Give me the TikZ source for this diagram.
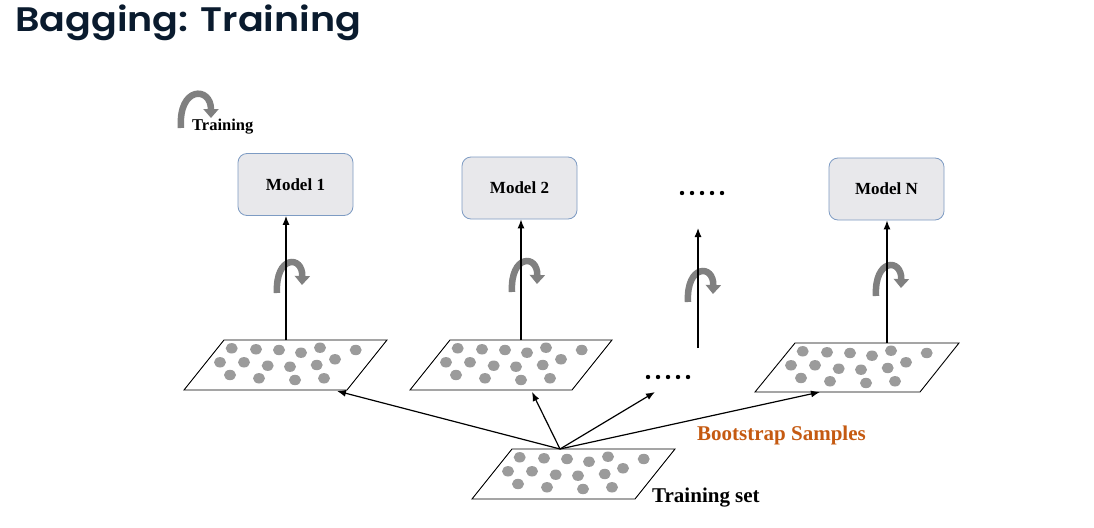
\documentclass[tikz,border=0pt]{standalone}
\usepackage{fontspec}
\setmainfont{Liberation Serif}
\newfontfamily\titlefont[FakeStretch=1.12]{Poppins SemiBold}
\usetikzlibrary{arrows.meta}
\definecolor{titlecol}{RGB}{10,27,46}
\definecolor{boxfill}{RGB}{232,232,235}
\definecolor{boxline}{RGB}{125,155,195}
\definecolor{dotcol}{RGB}{155,155,155}
\definecolor{curvcol}{RGB}{128,128,128}
\definecolor{orangecol}{RGB}{197,90,17}
\tikzset{
  modelbox/.style={draw=boxline, line width=0.8pt, fill=boxfill, rounded corners=9pt, minimum width=115pt, minimum height=62pt, font=\bfseries\fontsize{17}{19}\selectfont, inner sep=0pt},
  arr/.style={draw=black, line width=1.2pt, -{Latex[length=9pt,width=7pt]}},
  plane/.style={draw=black, line width=0.9pt, fill=white},
  sdot/.style={fill=dotcol, draw=none},
  carrow/.style={draw=curvcol, line width=6.5pt, -{Triangle[length=9pt,width=15pt]}},
  pics/curv/.style={code={\draw[carrow] (0,0) .. controls (-2,-38) and (26,-38) .. (25,-8);}},
  pics/curvwide/.style={code={\draw[carrow] (0,0) .. controls (-3,-42) and (30,-42) .. (30,-10);}},
  lbl/.style={font=\bfseries\fontsize{21}{24}\selectfont, anchor=base west, inner sep=0pt}
}
\newcommand{\dotgrid}[2]{%
  \begin{scope}[shift={(#1,#2)}]
    \foreach \dx/\dy in {7.7/8.3,32/9.3,55/10,77/12.7,96/7.7,131.7/10,
                         -4/22.3,20/22.3,43.7/25.7,66/26.7,92.7/25,111/19.3,
                         6/35,35/38.3,71/40,100/38.3}
      {\fill[sdot] (\dx,\dy) ellipse [x radius=6pt, y radius=5.2pt];}
  \end{scope}}
\begin{document}
\begin{tikzpicture}[x=1pt,y=-1pt]
\useasboundingbox[fill=white] (0,0) rectangle (1094,527);
% title
\node[anchor=base west, inner sep=0pt, text=titlecol, font=\titlefont\fontsize{34}{38}\selectfont] (title) at (15,32) {Bagging: Training};
% legend
\pic at (181,128) {curvwide};
\node[anchor=base west, inner sep=0pt, font=\bfseries\fontsize{16.5}{18}\selectfont] (leg) at (192,130) {Training};
% model boxes
\node[modelbox] (m1) at (295.5,184.5) {Model 1};
\node[modelbox] (m2) at (519.5,188) {Model 2};
\node[modelbox] (mn) at (886.5,189) {Model N};
\node[inner sep=0pt] (topdots) at (702,193) {};
\foreach \i in {0,...,4} \fill (682+\i*10,193) circle (2.2pt);
% parallelograms
\draw[plane] (224,340) coordinate (p1tl) -- (387,340) -- (347,390) -- (184,390) -- cycle;
\dotgrid{224}{340}
\draw[plane] (450,340) coordinate (p2tl) -- (612,340) -- (572,390) -- (410,390) -- cycle;
\dotgrid{450}{340}
\draw[plane] (795,343) coordinate (pntl) -- (959,343) -- (920,392) -- (755,392) -- cycle;
\dotgrid{795}{343}
\draw[plane] (512,449) coordinate (tstl) -- (675,449) -- (635,499) -- (472,499) -- cycle;
\dotgrid{512}{449}
\foreach \i in {0,...,4} \fill (648+\i*10,377) circle (2.2pt);
% coordinates
\coordinate (p1t) at (286,340);
\coordinate (p2t) at (521,340);
\coordinate (pnt) at (887,343);
\coordinate (midb) at (698,348);
\coordinate (midt) at (698,228);
\coordinate (src) at (560,449);
\coordinate (t1) at (337,391);
\coordinate (t2) at (532,392);
\coordinate (t3) at (655,392);
\coordinate (t4) at (820,392);
% curved arrows (under the lines)
\pic at (277,293) {curv};
\pic at (512,292) {curv};
\pic at (688,302) {curv};
\pic at (876,296) {curv};
% vertical arrows
\draw[arr] (p1t) -- (p1t |- m1.south);
\draw[arr] (p2t) -- (p2t |- m2.south);
\draw[arr] (pnt) -- (pnt |- mn.south);
\draw[arr] (midb) -- (midt);
% bootstrap arrows
\draw[arr] (src) -- (t1);
\draw[arr] (src) -- (t2);
\draw[arr] (src) -- (t3);
\draw[arr] (src) -- (t4);
% labels
\node[lbl, text=orangecol] (boot) at (697,440) {Bootstrap Samples};
\node[lbl] (tset) at (652,502) {Training set};
\end{tikzpicture}
\end{document}
